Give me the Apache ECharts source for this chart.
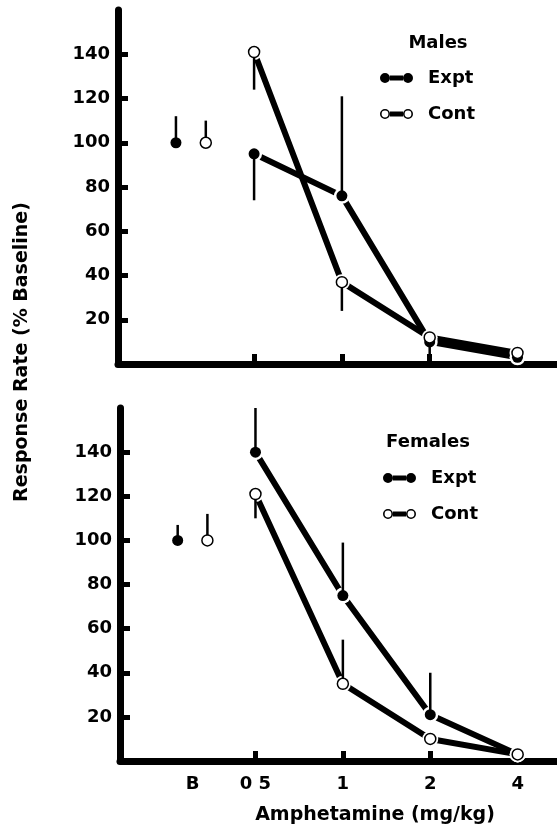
<!DOCTYPE html>
<html>
<head>
<meta charset="utf-8">
<script src="https://cdn.jsdelivr.net/npm/echarts@6/dist/echarts.min.js"></script>
<style>
  html, body { margin: 0; padding: 0; background: #fff; }
  #chart { width: 557px; height: 826px; }
</style>
</head>
<body>
<div id="chart"></div>
<script>
// 剂量 (mg/kg)，横轴按 log2 排列
const doses = [0.5, 1, 2, 4]
const doseLabels = ['0 5', '1', '2', '4']
const baseLabel = 'B'
const yTicks = [20, 40, 60, 80, 100, 120, 140]

// Males
const maleBase = [100, 100]          // expt, cont
const maleBaseErr = [12, 10]
const maleExpt = [95, 76, 10, 3]
const maleExptErr = [-21, 45, 0, 0]
const maleCont = [141, 37, 12, 5]
const maleContErr = [-17, -13, -8, 0]

// Females
const femaleBase = [100, 100]
const femaleBaseErr = [7, 12]
const femaleExpt = [140, 75, 21, 3]
const femaleExptErr = [20, 24, 19, 0]
const femaleCont = [121, 35, 10, 3]
const femaleContErr = [-11, 20, 0, 0]

// 基线点的横向位置（相对 0.5 剂量左移）
const BASE_X = [-1.89, -1.55]
const FONT = 'DejaVu Sans'

const doseX = doses.map(d => Math.log2(d))
const baseLabelX = (BASE_X[0] + BASE_X[1]) / 2

const EXPT_ICON = 'path://M0,5 A5,5 0 1,1 10,5 A5,5 0 1,1 0,5 Z M10,2.5 L23,2.5 L23,7.5 L10,7.5 Z M23,5 A5,5 0 1,1 33,5 A5,5 0 1,1 23,5 Z'
const CONT_ICON = 'path://M0,5 A5,5 0 1,1 10,5 A5,5 0 1,1 0,5 Z M1.6,5 A3.4,3.4 0 1,0 8.4,5 A3.4,3.4 0 1,0 1.6,5 Z' +
  ' M10,2.5 L23,2.5 L23,7.5 L10,7.5 Z M23,5 A5,5 0 1,1 33,5 A5,5 0 1,1 23,5 Z M24.6,5 A3.4,3.4 0 1,0 31.4,5 A3.4,3.4 0 1,0 24.6,5 Z'

function pts(vals, base, bx) {
  return [[bx, base]].concat(vals.map((v, i) => [doseX[i], v]))
}
function errData(vals, errs, base, baseErr, bx) {
  const out = []
  if (baseErr) out.push([bx, base, base + baseErr])
  vals.forEach((v, i) => {
    if (errs[i]) out.push([doseX[i], v, v + errs[i]])
  })
  return out
}

function makeX(idx, showLabel) {
  return {
    type: 'value', gridIndex: idx, min: -2.55, max: 2.45,
    splitLine: { show: false },
    axisLine: { show: true, onZero: false, lineStyle: { color: '#000', width: 7 } },
    axisTick: { show: true, inside: true, length: 10, customValues: doseX, lineStyle: { color: '#000', width: 5 } },
    axisLabel: {
      show: showLabel, margin: 14, color: '#000',
      fontFamily: FONT, fontWeight: 'bold', fontSize: 18,
      customValues: [baseLabelX].concat(doseX),
      formatter: v => {
        if (Math.abs(v - baseLabelX) < 1e-6) return baseLabel
        const i = doseX.findIndex(x => Math.abs(x - v) < 1e-6)
        return i >= 0 ? doseLabels[i] : ''
      }
    }
  }
}
function makeY(idx) {
  return {
    type: 'value', gridIndex: idx, min: 0, max: 160, interval: 20,
    splitLine: { show: false },
    axisLine: { show: true, onZero: false, lineStyle: { color: '#000', width: 7 } },
    axisTick: { show: true, inside: true, length: 10, customValues: yTicks, lineStyle: { color: '#000', width: 5 } },
    axisLabel: {
      margin: 8, color: '#000', customValues: yTicks,
      fontFamily: FONT, fontWeight: 'bold', fontSize: 18
    }
  }
}

function panelSeries(idx, expt, cont, base, exptErr, contErr, baseErr) {
  const ep = pts(expt, base[0], BASE_X[0])
  const cp = pts(cont, base[1], BASE_X[1])
  const line = (data) => ({
    type: 'line', xAxisIndex: idx, yAxisIndex: idx, silent: true,
    data: data.slice(1), showSymbol: false, z: 2,
    lineStyle: { color: '#000', width: 6 }
  })
  const halo = {
    type: 'scatter', xAxisIndex: idx, yAxisIndex: idx, silent: true,
    data: ep.slice(1).concat(cp.slice(1)), symbolSize: 16, z: 3,
    itemStyle: { color: '#fff', opacity: 1 }
  }
  const err = (data) => ({
    type: 'custom', xAxisIndex: idx, yAxisIndex: idx, silent: true, z: 4,
    data: data,
    renderItem: (params, api) => {
      const a = api.coord([api.value(0), api.value(1)])
      const b = api.coord([api.value(0), api.value(2)])
      return {
        type: 'line',
        shape: { x1: a[0], y1: a[1], x2: b[0], y2: b[1] },
        style: { stroke: '#000', lineWidth: 2.5 }
      }
    }
  })
  return [
    line(ep), line(cp), halo,
    err(errData(expt, exptErr, base[0], baseErr[0], BASE_X[0])),
    err(errData(cont, contErr, base[1], baseErr[1], BASE_X[1])),
    {
      name: 'Expt', type: 'scatter', xAxisIndex: idx, yAxisIndex: idx, silent: true,
      data: ep, symbolSize: 11, z: 5, itemStyle: { color: '#000', opacity: 1 }
    },
    {
      name: 'Cont', type: 'scatter', xAxisIndex: idx, yAxisIndex: idx, silent: true,
      data: cp, symbolSize: 11, z: 6, itemStyle: { color: '#fff', borderColor: '#000', borderWidth: 1.5, opacity: 1 }
    }
  ]
}

function makeLegend(left, top) {
  return {
    orient: 'vertical', left: left, top: top, padding: 0,
    itemWidth: 33, itemHeight: 10, itemGap: 18, selectedMode: false,
    textStyle: { fontFamily: FONT, fontWeight: 'bold', fontSize: 18, color: '#000', padding: [0, 0, 0, 10] },
    data: [
      { name: 'Expt', icon: EXPT_ICON, itemStyle: { color: '#000', borderWidth: 0, opacity: 1 } },
      { name: 'Cont', icon: CONT_ICON, itemStyle: { color: '#000', borderWidth: 0, opacity: 1 } }
    ]
  }
}

const myChart = echarts.init(document.getElementById('chart'), null, { renderer: 'canvas' })
const option = {
  animation: false,
  backgroundColor: '#fff',
  grid: [
    { left: 118, right: 0, top: 10, bottom: 462 },
    { left: 120, right: 0, top: 408, bottom: 65 }
  ],
  xAxis: [makeX(0, false), makeX(1, true)],
  yAxis: [makeY(0), makeY(1)],
  legend: [makeLegend(380, 69), makeLegend(383, 469)],
  graphic: [
    { type: 'text', x: 438, y: 43, style: { text: 'Males', font: 'bold 18px "' + FONT + '"', fill: '#000', align: 'center', verticalAlign: 'middle' } },
    { type: 'text', x: 428, y: 442, style: { text: 'Females', font: 'bold 18px "' + FONT + '"', fill: '#000', align: 'center', verticalAlign: 'middle' } },
    { type: 'text', x: 22, y: 352, rotation: Math.PI / 2, style: { text: 'Response Rate (% Baseline)', font: 'bold 19px "' + FONT + '"', fill: '#000', align: 'center', verticalAlign: 'middle' } },
    { type: 'text', x: 375, y: 815, style: { text: 'Amphetamine (mg/kg)', font: 'bold 19px "' + FONT + '"', fill: '#000', align: 'center', verticalAlign: 'middle' } }
  ],
  series: panelSeries(0, maleExpt, maleCont, maleBase, maleExptErr, maleContErr, maleBaseErr)
    .concat(panelSeries(1, femaleExpt, femaleCont, femaleBase, femaleExptErr, femaleContErr, femaleBaseErr))
}
myChart.setOption(option)
</script>
</body>
</html>
